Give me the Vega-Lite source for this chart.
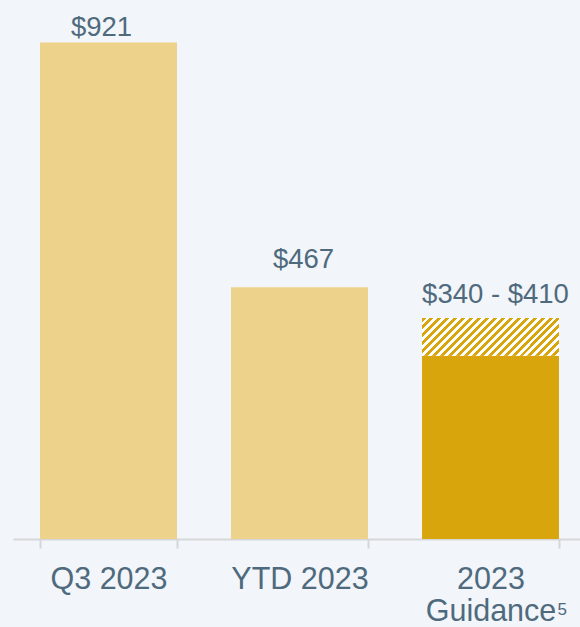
{
  "$schema": "https://vega.github.io/schema/vega-lite/v6.json",
  "width": 567,
  "height": 539,
  "autosize": {"type": "none"},
  "padding": {"left": 13, "top": 0, "right": 0, "bottom": 88},
  "background": "#f2f5f9",
  "config": {"view": {"stroke": null}, "font": "Liberation Sans"},
  "datasets": {
    "bars": [
      {"cat": "Q3 2023", "low": 0, "high": 921, "part": "result", "label": "$921"},
      {"cat": "YTD 2023", "low": 0, "high": 467, "part": "result", "label": "$467"},
      {"cat": "2023 Guidance", "low": 0, "high": 340, "part": "guidance", "label": ""},
      {"cat": "2023 Guidance", "low": 340, "high": 410, "part": "range", "label": "$340 - $410"}
    ]
  },
  "data": {"name": "bars"},
  "encoding": {
    "x": {
      "field": "cat",
      "type": "nominal",
      "sort": ["Q3 2023", "YTD 2023", "2023 Guidance"],
      "scale": {"range": [0, 573], "paddingInner": 0.283, "paddingOuter": 0.1415},
      "axis": {
        "title": null,
        "labelAngle": 0,
        "labelFont": "Liberation Sans",
        "labelFontSize": 30.5,
        "labelColor": "#4f6a7d",
        "labelPadding": 16,
        "labelLimit": 300,
        "labelLineHeight": 32,
        "labelExpr": "datum.label == '2023 Guidance' ? ['2023', 'Guidance'] : datum.label",
        "domainColor": "#d5d7d9",
        "domainWidth": 2,
        "tickColor": "#d5d7d9",
        "tickWidth": 2,
        "tickSize": 9,
        "tickBand": "extent",
        "grid": false
      }
    },
    "y": {
      "field": "high",
      "type": "quantitative",
      "scale": {"domain": [0, 1000], "nice": false},
      "axis": null
    }
  },
  "layer": [
    {
      "transform": [{"filter": "datum.part != 'range'"}],
      "mark": {"type": "bar"},
      "encoding": {
        "y2": {"field": "low"},
        "color": {
          "field": "part",
          "type": "nominal",
          "scale": {"domain": ["result", "guidance"], "range": ["#ecd28a", "#d9a50d"]},
          "legend": null
        }
      }
    },
    {
      "transform": [{"filter": "datum.part == 'range'"}],
      "mark": {
        "type": "bar",
        "color": {
          "gradient": "linear",
          "x1": 0, "y1": 0, "x2": 1.1854, "y2": 0.3264,
          "stops": [
            {"offset": 0, "color": "#d9a50d"}, {"offset": 0.0227, "color": "#d9a50d"}, {"offset": 0.0227, "color": "#ffffff"}, {"offset": 0.0455, "color": "#ffffff"},
            {"offset": 0.0455, "color": "#d9a50d"}, {"offset": 0.0682, "color": "#d9a50d"}, {"offset": 0.0682, "color": "#ffffff"}, {"offset": 0.0909, "color": "#ffffff"},
            {"offset": 0.0909, "color": "#d9a50d"}, {"offset": 0.1136, "color": "#d9a50d"}, {"offset": 0.1136, "color": "#ffffff"}, {"offset": 0.1364, "color": "#ffffff"},
            {"offset": 0.1364, "color": "#d9a50d"}, {"offset": 0.1591, "color": "#d9a50d"}, {"offset": 0.1591, "color": "#ffffff"}, {"offset": 0.1818, "color": "#ffffff"},
            {"offset": 0.1818, "color": "#d9a50d"}, {"offset": 0.2045, "color": "#d9a50d"}, {"offset": 0.2045, "color": "#ffffff"}, {"offset": 0.2273, "color": "#ffffff"},
            {"offset": 0.2273, "color": "#d9a50d"}, {"offset": 0.25, "color": "#d9a50d"}, {"offset": 0.25, "color": "#ffffff"}, {"offset": 0.2727, "color": "#ffffff"},
            {"offset": 0.2727, "color": "#d9a50d"}, {"offset": 0.2955, "color": "#d9a50d"}, {"offset": 0.2955, "color": "#ffffff"}, {"offset": 0.3182, "color": "#ffffff"},
            {"offset": 0.3182, "color": "#d9a50d"}, {"offset": 0.3409, "color": "#d9a50d"}, {"offset": 0.3409, "color": "#ffffff"}, {"offset": 0.3636, "color": "#ffffff"},
            {"offset": 0.3636, "color": "#d9a50d"}, {"offset": 0.3864, "color": "#d9a50d"}, {"offset": 0.3864, "color": "#ffffff"}, {"offset": 0.4091, "color": "#ffffff"},
            {"offset": 0.4091, "color": "#d9a50d"}, {"offset": 0.4318, "color": "#d9a50d"}, {"offset": 0.4318, "color": "#ffffff"}, {"offset": 0.4545, "color": "#ffffff"},
            {"offset": 0.4545, "color": "#d9a50d"}, {"offset": 0.4773, "color": "#d9a50d"}, {"offset": 0.4773, "color": "#ffffff"}, {"offset": 0.5, "color": "#ffffff"},
            {"offset": 0.5, "color": "#d9a50d"}, {"offset": 0.5227, "color": "#d9a50d"}, {"offset": 0.5227, "color": "#ffffff"}, {"offset": 0.5455, "color": "#ffffff"},
            {"offset": 0.5455, "color": "#d9a50d"}, {"offset": 0.5682, "color": "#d9a50d"}, {"offset": 0.5682, "color": "#ffffff"}, {"offset": 0.5909, "color": "#ffffff"},
            {"offset": 0.5909, "color": "#d9a50d"}, {"offset": 0.6136, "color": "#d9a50d"}, {"offset": 0.6136, "color": "#ffffff"}, {"offset": 0.6364, "color": "#ffffff"},
            {"offset": 0.6364, "color": "#d9a50d"}, {"offset": 0.6591, "color": "#d9a50d"}, {"offset": 0.6591, "color": "#ffffff"}, {"offset": 0.6818, "color": "#ffffff"},
            {"offset": 0.6818, "color": "#d9a50d"}, {"offset": 0.7045, "color": "#d9a50d"}, {"offset": 0.7045, "color": "#ffffff"}, {"offset": 0.7273, "color": "#ffffff"},
            {"offset": 0.7273, "color": "#d9a50d"}, {"offset": 0.75, "color": "#d9a50d"}, {"offset": 0.75, "color": "#ffffff"}, {"offset": 0.7727, "color": "#ffffff"},
            {"offset": 0.7727, "color": "#d9a50d"}, {"offset": 0.7955, "color": "#d9a50d"}, {"offset": 0.7955, "color": "#ffffff"}, {"offset": 0.8182, "color": "#ffffff"},
            {"offset": 0.8182, "color": "#d9a50d"}, {"offset": 0.8409, "color": "#d9a50d"}, {"offset": 0.8409, "color": "#ffffff"}, {"offset": 0.8636, "color": "#ffffff"},
            {"offset": 0.8636, "color": "#d9a50d"}, {"offset": 0.8864, "color": "#d9a50d"}, {"offset": 0.8864, "color": "#ffffff"}, {"offset": 0.9091, "color": "#ffffff"},
            {"offset": 0.9091, "color": "#d9a50d"}, {"offset": 0.9318, "color": "#d9a50d"}, {"offset": 0.9318, "color": "#ffffff"}, {"offset": 0.9545, "color": "#ffffff"},
            {"offset": 0.9545, "color": "#d9a50d"}, {"offset": 0.9773, "color": "#d9a50d"}, {"offset": 0.9773, "color": "#ffffff"}, {"offset": 1, "color": "#ffffff"}
          ]
        }
      },
      "encoding": {"y2": {"field": "low"}}
    },
    {
      "transform": [{"filter": "datum.cat == 'Q3 2023'"}],
      "mark": {"type": "text", "fontSize": 27.5, "color": "#4f6a7d", "baseline": "alphabetic", "dy": -7, "dx": -7},
      "encoding": {"text": {"field": "label"}}
    },
    {
      "transform": [{"filter": "datum.cat == 'YTD 2023'"}],
      "mark": {"type": "text", "fontSize": 27.5, "color": "#4f6a7d", "baseline": "alphabetic", "dy": -19, "dx": 4},
      "encoding": {"text": {"field": "label"}}
    },
    {
      "transform": [{"filter": "datum.part == 'range'"}],
      "mark": {"type": "text", "fontSize": 27.5, "color": "#4f6a7d", "baseline": "alphabetic", "dy": -15, "dx": 5},
      "encoding": {"text": {"field": "label"}}
    },
    {
      "transform": [{"filter": "datum.part == 'range'"}],
      "mark": {"type": "text", "text": "5", "fontSize": 17, "color": "#4f6a7d", "baseline": "alphabetic", "align": "left", "dx": 67},
      "encoding": {"y": {"datum": 0}, "yOffset": {"value": 76}}
    }
  ]
}
